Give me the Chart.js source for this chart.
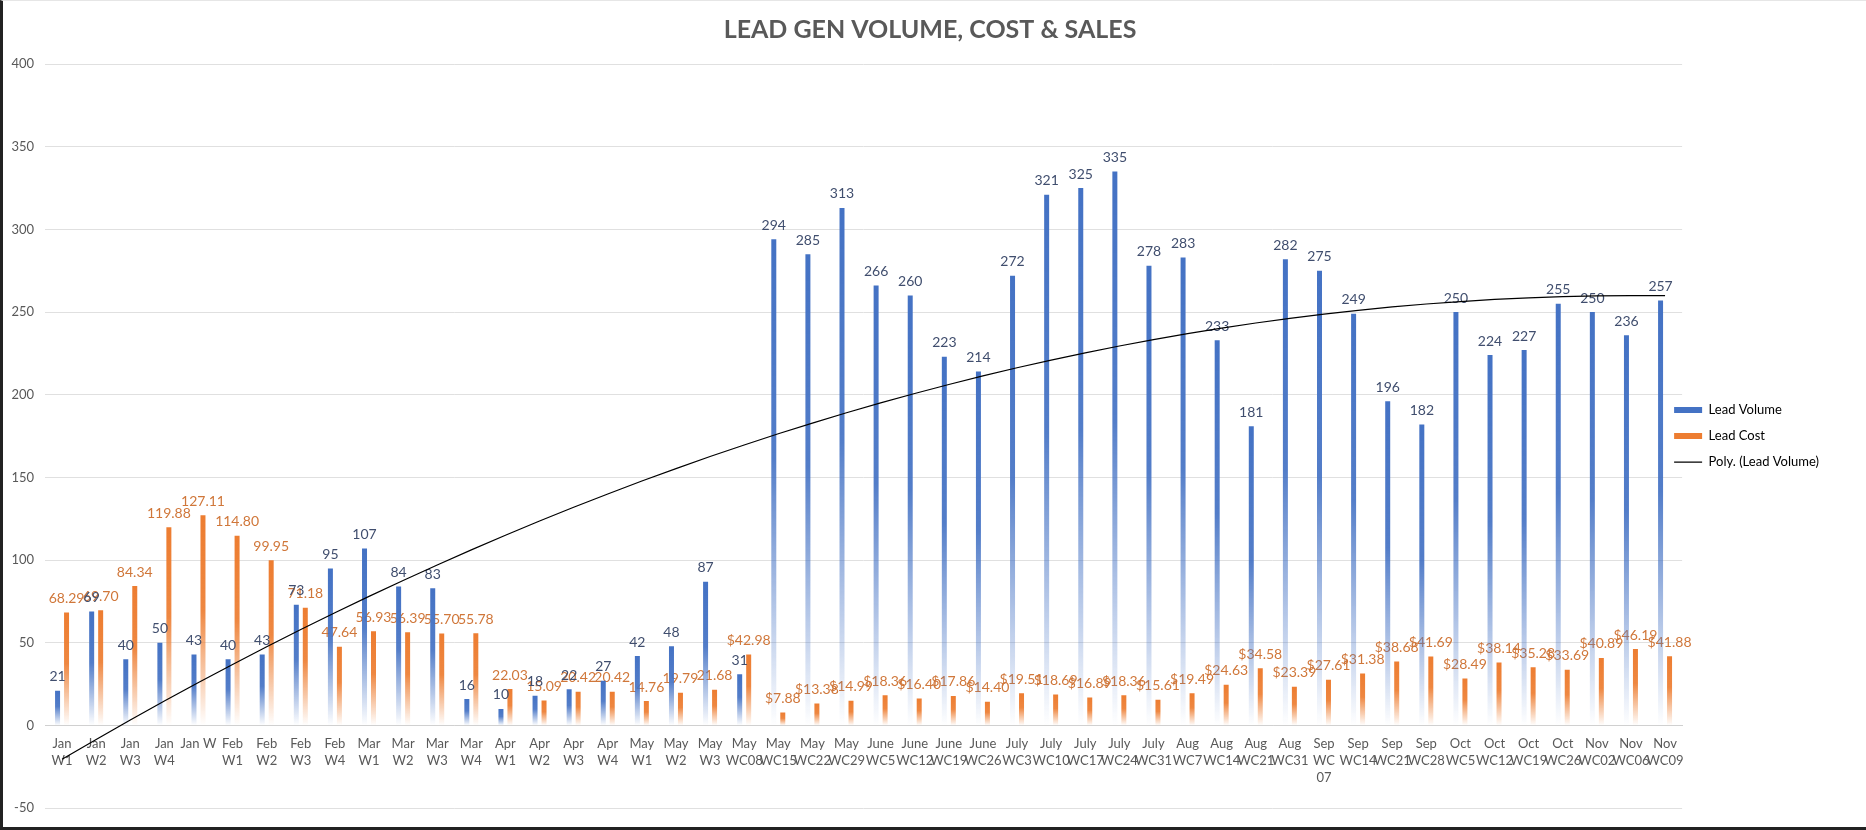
<!DOCTYPE html>
<html>
<head>
<meta charset="utf-8">
<script src="https://cdn.jsdelivr.net/npm/chart.js@4/dist/chart.umd.min.js"></script>
<style>
  html, body { margin: 0; padding: 0; background: #fff; }
  #wrap {
    position: absolute; left: 0; top: 0; width: 1866px; height: 830px;
    box-sizing: border-box; border-left: 3px solid #222; border-bottom: 3px solid #222;
    border-top: 1px solid #e6e6e6;
  }
</style>
</head>
<body>
<div id="wrap"><canvas id="chart"></canvas></div>
<script>
// categories (already wrapped the way the axis shows them)
const weeks = [
  ['Jan','W1'], ['Jan','W2'], ['Jan','W3'], ['Jan','W4'], ['Jan W'],
  ['Feb','W1'], ['Feb','W2'], ['Feb','W3'], ['Feb','W4'],
  ['Mar','W1'], ['Mar','W2'], ['Mar','W3'], ['Mar','W4'],
  ['Apr','W1'], ['Apr','W2'], ['Apr','W3'], ['Apr','W4'],
  ['May','W1'], ['May','W2'], ['May','W3'], ['May','WC08'], ['May','WC15'], ['May','WC22'], ['May','WC29'],
  ['June','WC5'], ['June','WC12'], ['June','WC19'], ['June','WC26'],
  ['July','WC3'], ['July','WC10'], ['July','WC17'], ['July','WC24'], ['July','WC31'],
  ['Aug','WC7'], ['Aug','WC14'], ['Aug','WC21'], ['Aug','WC31'],
  ['Sep','WC','07'], ['Sep','WC14'], ['Sep','WC21'], ['Sep','WC28'],
  ['Oct','WC5'], ['Oct','WC12'], ['Oct','WC19'], ['Oct','WC26'],
  ['Nov','WC02'], ['Nov','WC06'], ['Nov','WC09']
];

const leadVolume = [21, 69, 40, 50, 43, 40, 43, 73, 95, 107, 84, 83, 16, 10, 18, 22, 27, 42, 48, 87,
  31, 294, 285, 313, 266, 260, 223, 214, 272, 321, 325, 335, 278, 283, 233, 181, 282, 275, 249, 196,
  182, 250, 224, 227, 255, 250, 236, 257];

const leadCost = [68.29, 69.70, 84.34, 119.88, 127.11, 114.80, 99.95, 71.18, 47.64, 56.93, 56.39, 55.70,
  55.78, 22.03, 15.09, 20.42, 20.42, 14.76, 19.79, 21.68, 42.98, 7.88, 13.38, 14.99, 18.36, 16.40,
  17.86, 14.40, 19.51, 18.69, 16.89, 18.36, 15.61, 19.49, 24.63, 34.58, 23.39, 27.61, 31.38, 38.68,
  41.69, 28.49, 38.14, 35.28, 33.69, 40.89, 46.19, 41.88];

// cost labels get a $ sign from May WC08 onwards
const dollarFrom = 20;

const yTicks = { min: -50, max: 400, step: 50 };

// Excel "Poly. (Lead Volume)" trendline = order-2 least squares fit of the volume column
function polyTrend(ys) {
  let s = [0, 0, 0, 0, 0], t = [0, 0, 0];
  ys.forEach((y, i) => {
    const x = i + 1;
    for (let k = 0; k < 5; k++) s[k] += Math.pow(x, k);
    for (let k = 0; k < 3; k++) t[k] += y * Math.pow(x, k);
  });
  const m = [[s[0], s[1], s[2], t[0]], [s[1], s[2], s[3], t[1]], [s[2], s[3], s[4], t[2]]];
  for (let c = 0; c < 3; c++) {
    for (let r = c + 1; r < 3; r++) {
      const f = m[r][c] / m[c][c];
      for (let k = c; k < 4; k++) m[r][k] -= f * m[c][k];
    }
  }
  const p = [0, 0, 0];
  for (let r = 2; r >= 0; r--) {
    let v = m[r][3];
    for (let k = r + 1; k < 3; k++) v -= m[r][k] * p[k];
    p[r] = v / m[r][r];
  }
  return ys.map((_, i) => p[0] + p[1] * (i + 1) + p[2] * (i + 1) * (i + 1));
}

const BLUE = '68,114,196';
const ORANGE = '237,125,49';

// solid on the upper part of each bar, fading out towards the axis
function fade(rgb) {
  return function(ctx) {
    const chart = ctx.chart;
    const y = chart.scales && chart.scales.y;
    if (!y || ctx.parsed === undefined) return 'rgb(' + rgb + ')';
    const top = y.getPixelForValue(ctx.parsed.y);
    const base = y.getPixelForValue(0);
    if (!isFinite(top) || base - top < 1) return 'rgb(' + rgb + ')';
    const g = chart.ctx.createLinearGradient(0, top, 0, base);
    g.addColorStop(0, 'rgba(' + rgb + ',1)');
    g.addColorStop(0.45, 'rgba(' + rgb + ',0.92)');
    g.addColorStop(1, 'rgba(' + rgb + ',0)');
    return g;
  };
}

const barLabels = {
  id: 'barLabels',
  afterDatasetDraw(chart, args) {
    const ds = chart.data.datasets[args.index];
    if (!ds.labelFmt) return;
    const c = chart.ctx;
    c.save();
    c.font = '14px Lato';
    c.fillStyle = ds.labelColor;
    c.textAlign = 'center';
    c.textBaseline = 'middle';
    args.meta.data.forEach((bar, i) => c.fillText(ds.labelFmt(ds.data[i], i), bar.x, bar.y - 14));
    c.restore();
  }
};

// Excel lets the legend sit a little over the plot area
const legendNudge = {
  id: 'legendNudge',
  afterLayout(chart) {
    if (chart.legend) { chart.legend.left -= 21; chart.legend.right -= 21; }
  }
};

Chart.defaults.font.family = 'Lato';
Chart.defaults.color = '#595959';

new Chart(document.getElementById('chart'), {
  type: 'bar',
  data: {
    labels: weeks,
    datasets: [
      {
        label: 'Lead Volume', data: leadVolume, backgroundColor: fade(BLUE),
        categoryPercentage: 0.527, barPercentage: 0.556,
        labelColor: '#404E6E', labelFmt: v => String(v)
      },
      {
        label: 'Lead Cost', data: leadCost, backgroundColor: fade(ORANGE),
        categoryPercentage: 0.527, barPercentage: 0.556,
        labelColor: '#D0773A', labelFmt: (v, i) => (i >= dollarFrom ? '$' : '') + v.toFixed(2)
      },
      {
        type: 'line', label: 'Poly. (Lead Volume)', data: polyTrend(leadVolume),
        borderColor: '#000', borderWidth: 1.2, pointRadius: 0, tension: 0, fill: false, order: -1
      }
    ]
  },
  options: {
    responsive: true, maintainAspectRatio: false, animation: false,
    layout: { padding: { left: 7, right: 16, top: 0, bottom: 16 } },
    plugins: {
      title: {
        display: true, text: 'LEAD GEN VOLUME, COST & SALES', color: '#595959',
        font: { size: 25, weight: 'bold' }, padding: { top: 14, bottom: 19 }
      },
      legend: {
        position: 'right', fullSize: false,
        labels: {
          usePointStyle: true, pointStyleWidth: 28, boxHeight: 6, padding: 13,
          font: { size: 13 }, color: '#595959',
          generateLabels: () => [
            { text: 'Lead Volume', fillStyle: 'rgb(' + BLUE + ')', strokeStyle: 'rgb(' + BLUE + ')', lineWidth: 0, pointStyle: 'rect', datasetIndex: 0 },
            { text: 'Lead Cost', fillStyle: 'rgb(' + ORANGE + ')', strokeStyle: 'rgb(' + ORANGE + ')', lineWidth: 0, pointStyle: 'rect', datasetIndex: 1 },
            { text: 'Poly. (Lead Volume)', fillStyle: '#000', strokeStyle: '#000', lineWidth: 1.2, pointStyle: 'line', datasetIndex: 2 }
          ]
        }
      },
      tooltip: { enabled: false }
    },
    scales: {
      x: {
        position: { y: 0 },
        grid: { display: false, drawTicks: false },
        border: { color: '#d0d0d0' },
        ticks: { autoSkip: false, maxRotation: 0, minRotation: 0, padding: 10, font: { size: 13, lineHeight: 1.3 } }
      },
      y: {
        min: yTicks.min, max: yTicks.max,
        grid: { color: '#e0e0e0', drawTicks: false },
        border: { display: false },
        ticks: { stepSize: yTicks.step, padding: 11, font: { size: 13 } },
        afterFit: s => { s.width = 35; }
      }
    }
  },
  plugins: [barLabels, legendNudge]
});
</script>
</body>
</html>
